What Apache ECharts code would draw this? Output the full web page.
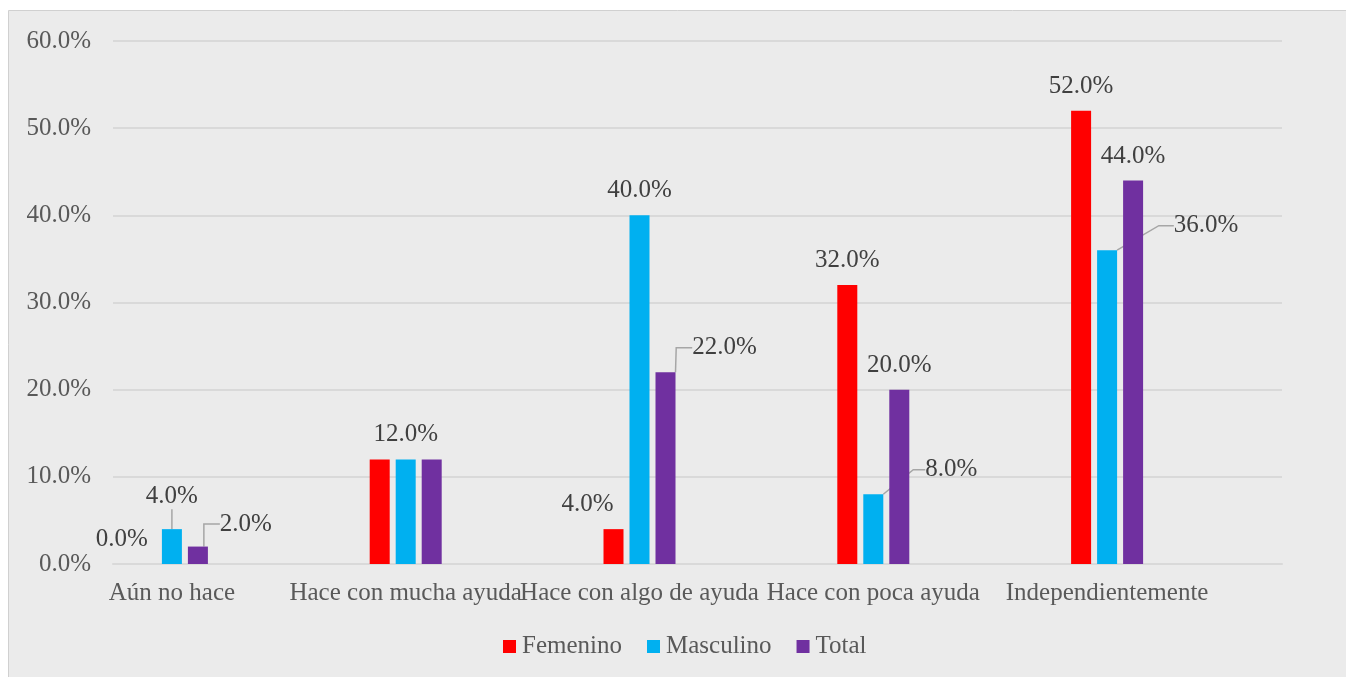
<!DOCTYPE html>
<html><head><meta charset="utf-8">
<script src="https://cdn.jsdelivr.net/npm/echarts@6/dist/echarts.min.js"></script>
<style>html,body{margin:0;padding:0;background:#fff}#c{width:1346px;height:677px}</style>
</head><body><div id="c"></div>
<script>
const categories = ['Aún no hace','Hace con mucha ayuda','Hace con algo de ayuda','Hace con poca ayuda','Independientemente'];
const femenino = [0.00, 0.12, 0.04, 0.32, 0.52];
const masculino = [0.04, 0.12, 0.40, 0.08, 0.36];
const total = [0.02, 0.12, 0.22, 0.20, 0.44];
const seriesNames = ['Femenino','Masculino','Total'];

// label placement tweaks (style only), keyed "seriesIndex-dataIndex"
const labelTweaks = {
  '0-0': {dx:-24, dy:0},
  '0-1': {hide:true},
  '2-1': {hide:true},
  '1-0': {dx:0, dy:-5, line:true, len:2},
  '2-0': {dx:48, dy:2, line:true, len:16},
  '0-2': {dx:-26, dy:0},
  '2-2': {dx:59, dy:0, line:true, len:16},
  '1-3': {dx:78, dy:0, line:true, len:12},
  '1-4': {dx:99, dy:0, line:true, len:15},
  '2-4': {dx:0, dy:0}
};

const FONT = 'Liberation Serif';
const FS = 25;
const colors = ['#FF0000','#00B0F0','#7030A0'];
const dataSets = [femenino, masculino, total];

const chart = echarts.init(document.getElementById('c'));
const pct = v => (v*100).toFixed(1) + '%';
const lineStyle = {color:'#A6A6A6', width:1.5};

const series = dataSets.map((arr, si) => ({
  name: seriesNames[si],
  type: 'bar',
  xAxisIndex: 1, yAxisIndex: 1,
  barWidth: 20,
  barGap: '30%',
  itemStyle: {color: colors[si]},
  data: arr.map((v, di) => {
    const t = labelTweaks[si+'-'+di] || {};
    const item = {value: v, label: {show: !t.hide}};
    if (t.line) {
      item.label.padding = t.len <= 2 ? [0, 0, 3, 0] : [0, 6];
      item.labelLine = {show: true, length2: t.len, lineStyle: lineStyle};
    }
    return item;
  }),
  label: {
    show: true, position: 'top', distance: 12,
    fontFamily: FONT, fontSize: FS, color: '#404040',
    formatter: p => pct(p.value)
  },
  labelLine: {show: false, lineStyle: lineStyle},
  labelLayout: function (p) {
    const t = labelTweaks[p.seriesIndex+'-'+p.dataIndex];
    if (!t) return {};
    return {dx: t.dx || 0, dy: t.dy || 0};
  }
}));

chart.setOption({
  animation: false,
  textStyle: {fontFamily: FONT},
  graphic: [{
    type: 'rect', z: -10, silent: true,
    shape: {x: 8.5, y: 10.5, width: 1340, height: 670},
    style: {fill: '#EBEBEB', stroke: '#D0D0D0', lineWidth: 1}
  }],
  legend: {
    bottom: 13, left: 498,
    itemWidth: 13, itemHeight: 13, itemGap: 25,
    icon: 'rect',
    textStyle: {fontFamily: FONT, fontSize: FS, color: '#595959', padding: [0, 0, 0, 1]},
    data: seriesNames
  },
  grid: [
    {left: 113, right: 64, top: 41, bottom: 113},
    {left: 55, width: 1169, top: 41, bottom: 113}
  ],
  xAxis: [
    {gridIndex: 0, type: 'category', data: categories, axisLine: {show: true, lineStyle: {color: '#D9D9D9', width: 2}},
     axisTick: {show: false}, axisLabel: {show: false}},
    {gridIndex: 1, type: 'category', data: categories, axisLine: {show: false}, axisTick: {show: false},
     axisLabel: {fontFamily: FONT, fontSize: FS, color: '#595959', margin: 17, interval: 0}}
  ],
  yAxis: [
    {gridIndex: 0, type: 'value', min: 0, max: 0.6, interval: 0.1,
     axisLine: {show: false}, axisTick: {show: false},
     splitLine: {lineStyle: {color: '#D9D9D9', width: 2}},
     axisLabel: {fontFamily: FONT, fontSize: FS, color: '#595959', margin: 22, formatter: v => pct(v)}},
    {gridIndex: 1, type: 'value', min: 0, max: 0.6, interval: 0.1, show: false, splitLine: {show: false}}
  ],
  series: series
});
</script>
</body></html>
